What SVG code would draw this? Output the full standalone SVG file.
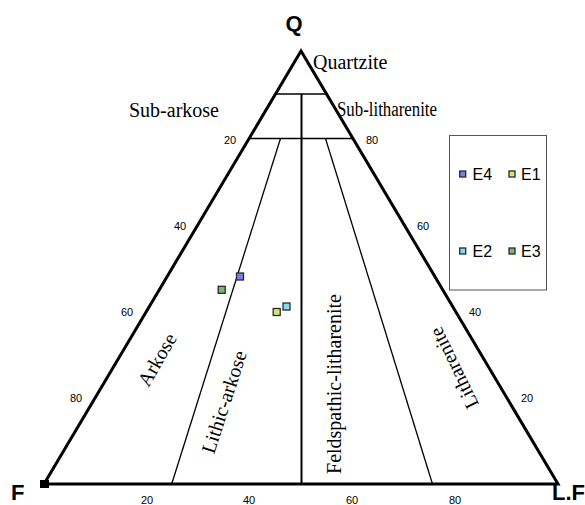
<svg xmlns="http://www.w3.org/2000/svg" width="585" height="505" viewBox="0 0 585 505">
<style>
.corner{font-family:"Liberation Sans",Arial,sans-serif;font-weight:bold;font-size:22px;fill:#000}
.tick{font-family:"Liberation Sans",Arial,sans-serif;font-size:11px;fill:#000;text-anchor:middle}
.field{font-family:"Liberation Serif","Times New Roman",serif;font-size:20px;fill:#000}
.leg{font-family:"Liberation Sans",Arial,sans-serif;font-size:16px;fill:#000}
.thin{stroke:#000;fill:none}
.pt{stroke:#2a2a2a;stroke-width:1.3}
</style>
<rect width="585" height="505" fill="#fff"/>
<g id="connectors">
<line class="thin" x1="275.5" y1="94" x2="326.5" y2="94" stroke-width="1.6"/>
<line class="thin" x1="249" y1="138.5" x2="353" y2="138.5" stroke-width="1.6"/>
<line class="thin" x1="301.5" y1="94" x2="301.5" y2="484" stroke-width="2"/>
<line class="thin" x1="280.5" y1="138.5" x2="171.7" y2="484" stroke-width="1.3"/>
<line class="thin" x1="325.5" y1="138.5" x2="432.5" y2="484" stroke-width="1.3"/>
</g>
<g id="triangle">
<polygon points="301,51 44,484 558,484" fill="none" stroke="#000" stroke-width="3" stroke-linejoin="miter"/>
<rect x="40" y="480" width="9" height="8" fill="#000"/>
</g>
<g id="corner-labels">
<text class="corner" x="294" y="31" text-anchor="middle">Q</text>
<text class="corner" x="11" y="500" font-size="21">F</text>
<text class="corner" x="552" y="500" font-size="21">L.F</text>
</g>
<g id="ticks">
<text class="tick" x="230" y="144">20</text>
<text class="tick" x="180" y="230">40</text>
<text class="tick" x="127" y="316">60</text>
<text class="tick" x="76" y="402">80</text>
<text class="tick" x="372" y="144">80</text>
<text class="tick" x="423" y="230">60</text>
<text class="tick" x="475" y="316">40</text>
<text class="tick" x="527" y="402">20</text>
<text class="tick" x="147" y="504">20</text>
<text class="tick" x="249" y="504">40</text>
<text class="tick" x="352" y="504">60</text>
<text class="tick" x="455" y="504">80</text>
</g>
<g id="fields">
<text class="field" x="313" y="69">Quartzite</text>
<text class="field" x="129" y="117">Sub-arkose</text>
<text class="field" x="337" y="116" font-size="18" textLength="100" lengthAdjust="spacingAndGlyphs">Sub-litharenite</text>
<text class="field" text-anchor="middle" transform="translate(163,363) rotate(-60)">Arkose</text>
<text class="field" text-anchor="middle" transform="translate(230.5,404) rotate(-72)">Lithic-arkose</text>
<text class="field" text-anchor="middle" transform="translate(341,384) rotate(-90)">Feldspathic-litharenite</text>
<text class="field" text-anchor="middle" transform="translate(460,365) rotate(-116)">Litharenite</text>
</g>
<g id="legend">
<rect x="449.5" y="135.5" width="97" height="154.5" fill="#fff" stroke="#555" stroke-width="1"/>
<rect class="pt" x="459.7" y="171" width="6" height="6" fill="#7b7bf0"/>
<text class="leg" x="472.5" y="180">E4</text>
<rect class="pt" x="509" y="171" width="6" height="6" fill="#d6e27c"/>
<text class="leg" x="521" y="180">E1</text>
<rect class="pt" x="459.7" y="248" width="6" height="6" fill="#7fdff0"/>
<text class="leg" x="472.5" y="257">E2</text>
<rect class="pt" x="509" y="248" width="6" height="6" fill="#74b874"/>
<text class="leg" x="521" y="257">E3</text>
</g>
<g id="points">
<rect class="pt" x="236.5" y="273" width="7" height="7" fill="#7b7bf0"/>
<rect class="pt" x="218.2" y="286.3" width="7" height="7" fill="#74b874"/>
<rect class="pt" x="273.2" y="308.5" width="7" height="7" fill="#d6e27c"/>
<rect class="pt" x="283" y="303" width="7" height="7" fill="#7fdff0"/>
</g>
</svg>
